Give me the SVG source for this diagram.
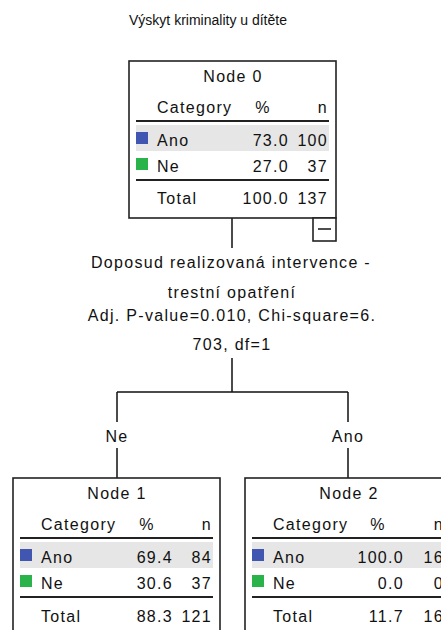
<svg xmlns="http://www.w3.org/2000/svg" width="441" height="630" viewBox="0 0 441 630">
<defs>
<style>
text{font-family:"Liberation Sans","DejaVu Sans",Arial,sans-serif;font-size:16px;fill:#111;letter-spacing:1.3px}
.title{font-size:14px;letter-spacing:0}
.c{text-anchor:middle}
.r{text-anchor:end}
.box{fill:#fff;stroke:#222;stroke-width:1.6}
.rule{stroke:#222;stroke-width:2}
.shade{fill:#e6e6e6}
.blue{fill:#4156b0}
.green{fill:#2bb34b}
.conn{fill:none;stroke:#111;stroke-width:1.5}
</style>
</defs>
<rect width="441" height="630" fill="#fff"/>
<text class="title c" x="208" y="25">Výskyt kriminality u dítěte</text>

<g id="connectors">
<path class="conn" d="M232 218V248M232 358V392M117 392H348M117 392V422M348 392V422M117 448V478M348 448V478"/>
<text class="c" x="231" y="268">Doposud realizovaná intervence -</text>
<text class="c" x="232" y="298">trestní opatření</text>
<text class="c" x="232" y="321">Adj. P-value=0.010, Chi-square=6.</text>
<text class="c" x="232" y="350">703, df=1</text>
<text class="c" x="117" y="442">Ne</text>
<text class="c" x="348" y="442">Ano</text>
</g>

<g id="node0" transform="translate(129,61)">
<rect class="box" x="0" y="0" width="207" height="157"/>
<text class="c" x="104" y="21">Node 0</text>
<text x="28" y="52">Category</text>
<text class="c" x="134" y="52">%</text>
<text class="r" x="199" y="52">n</text>
<line class="rule" x1="7" y1="60" x2="200" y2="60"/>
<rect class="shade" x="7" y="64" width="193" height="26"/>
<rect class="blue" x="7" y="71" width="12" height="12"/>
<text x="28" y="85">Ano</text>
<text class="r" x="160" y="85">73.0</text>
<text class="r" x="199" y="85">100</text>
<rect class="green" x="7" y="97" width="12" height="12"/>
<text x="28" y="111">Ne</text>
<text class="r" x="160" y="111">27.0</text>
<text class="r" x="199" y="111">37</text>
<line class="rule" x1="7" y1="119" x2="200" y2="119"/>
<text x="28" y="143">Total</text>
<text class="r" x="160" y="143">100.0</text>
<text class="r" x="199" y="143">137</text>
<rect class="box" x="184" y="157" width="23" height="23"/>
<line class="rule" x1="189" y1="168" x2="202" y2="168" style="stroke-width:1.6"/>
</g>

<g id="node1" transform="translate(13,478)">
<rect class="box" x="0" y="0" width="207" height="170"/>
<text class="c" x="104" y="21">Node 1</text>
<text x="28" y="52">Category</text>
<text class="c" x="134" y="52">%</text>
<text class="r" x="199" y="52">n</text>
<line class="rule" x1="7" y1="60" x2="200" y2="60"/>
<rect class="shade" x="7" y="64" width="193" height="26"/>
<rect class="blue" x="7" y="71" width="12" height="12"/>
<text x="28" y="85">Ano</text>
<text class="r" x="160" y="85">69.4</text>
<text class="r" x="199" y="85">84</text>
<rect class="green" x="7" y="97" width="12" height="12"/>
<text x="28" y="111">Ne</text>
<text class="r" x="160" y="111">30.6</text>
<text class="r" x="199" y="111">37</text>
<line class="rule" x1="7" y1="119" x2="200" y2="119"/>
<text x="28" y="144">Total</text>
<text class="r" x="160" y="144">88.3</text>
<text class="r" x="199" y="144">121</text>
</g>

<g id="node2" transform="translate(245,478)">
<rect class="box" x="0" y="0" width="207" height="170"/>
<text class="c" x="104" y="21">Node 2</text>
<text x="28" y="52">Category</text>
<text class="c" x="133" y="52">%</text>
<text class="r" x="199" y="52">n</text>
<line class="rule" x1="7" y1="60" x2="200" y2="60"/>
<rect class="shade" x="7" y="64" width="193" height="26"/>
<rect class="blue" x="7" y="71" width="12" height="12"/>
<text x="28" y="85">Ano</text>
<text class="r" x="159" y="85">100.0</text>
<text class="r" x="199" y="85">16</text>
<rect class="green" x="7" y="97" width="12" height="12"/>
<text x="28" y="111">Ne</text>
<text class="r" x="159" y="111">0.0</text>
<text class="r" x="199" y="111">0</text>
<line class="rule" x1="7" y1="119" x2="200" y2="119"/>
<text x="28" y="144">Total</text>
<text class="r" x="159" y="144">11.7</text>
<text class="r" x="199" y="144">16</text>
</g>
</svg>
